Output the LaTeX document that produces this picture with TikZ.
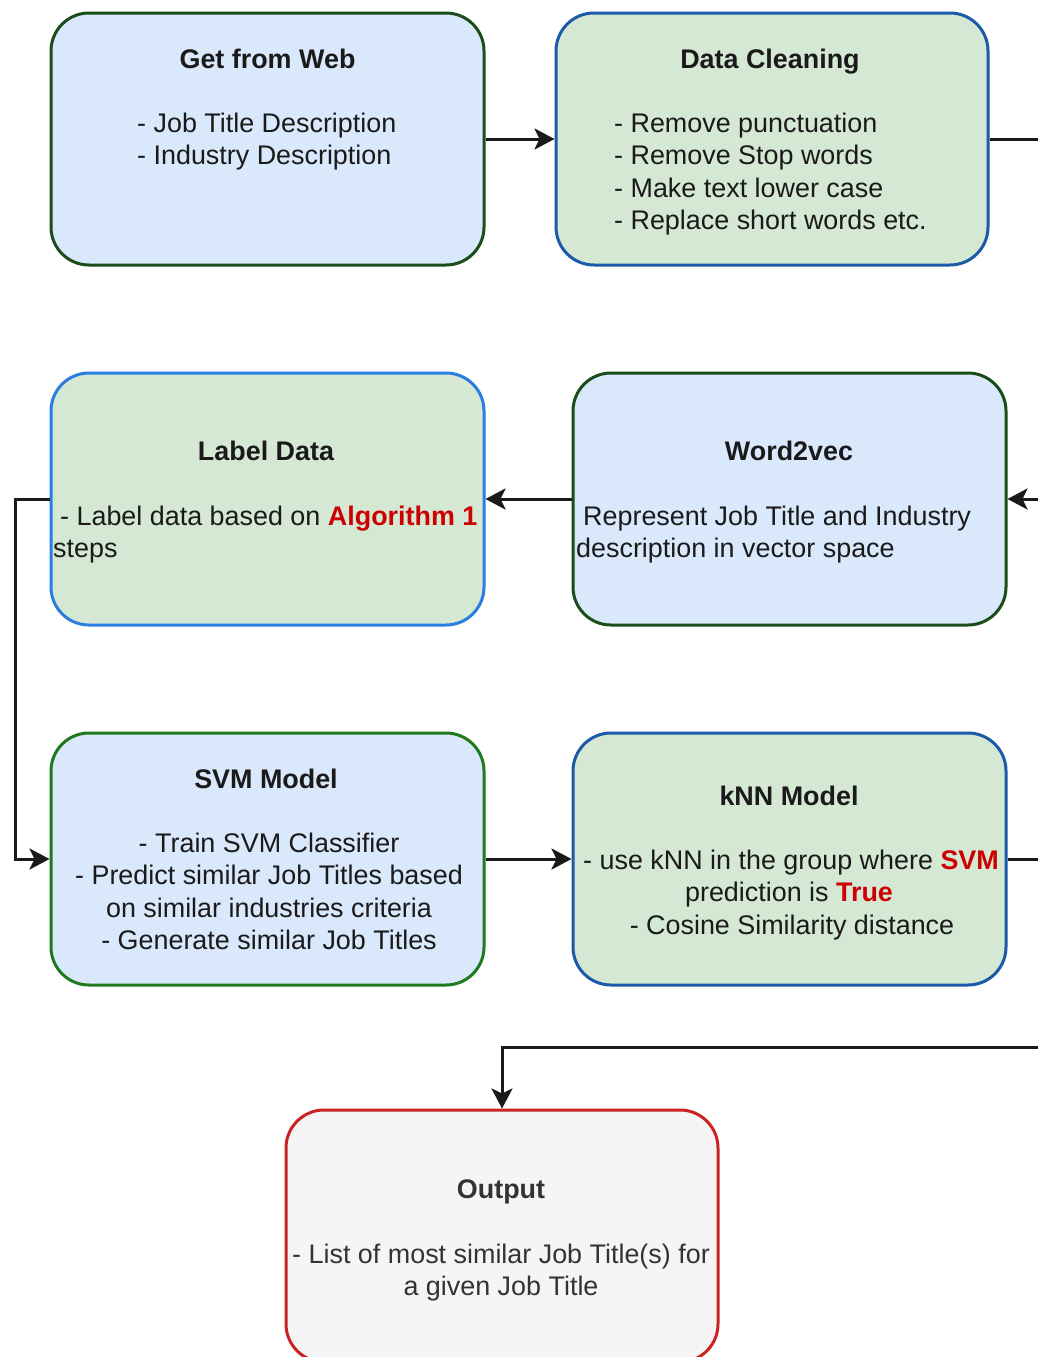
\documentclass[tikz,border=0pt]{standalone}
\usepackage{fontspec}
\setmainfont{Liberation Sans}
\usetikzlibrary{arrows.meta}
\definecolor{bluefill}{HTML}{DAE8FC}
\definecolor{greenfill}{HTML}{D5E8D4}
\definecolor{greyfill}{HTML}{F5F5F5}
\definecolor{darkgreen}{HTML}{1B4D1B}
\definecolor{midgreen}{HTML}{1F7A1F}
\definecolor{darkblue}{HTML}{1A5AA8}
\definecolor{brightblue}{HTML}{2B7DE0}
\definecolor{outred}{HTML}{CC2222}
\definecolor{hired}{HTML}{CC0000}
\definecolor{ink}{HTML}{1A1A1A}
\definecolor{greyink}{HTML}{333333}
\begin{document}
\begin{tikzpicture}[x=1pt,y=-1pt,
  box/.style={rectangle, rounded corners=38pt, line width=3pt, minimum width=433pt, minimum height=252pt, inner sep=0pt},
  txt/.style={inner sep=0pt, text=ink, font=\fontsize{26.9}{32.5}\selectfont},
  ttl/.style={inner sep=0pt, text=ink, font=\fontsize{26.9}{32.5}\selectfont\bfseries},
  conn/.style={line width=3pt, draw=ink, -{Stealth[length=20pt,width=21pt,inset=5pt]}}]
\useasboundingbox (0,0) rectangle (1038,1357);
\fill[white] (0,0) rectangle (1038,1357);
\clip (0,0) rectangle (1038,1357);

% boxes
\node[box, fill=bluefill, draw=darkgreen] (gfw) at (267.5,139) {};
\node[box, fill=greenfill, draw=darkblue, minimum width=432pt] (dc) at (772,139) {};
\node[box, fill=greenfill, draw=brightblue] (ld) at (267.5,499) {};
\node[box, fill=bluefill, draw=darkgreen] (w2v) at (789.5,499) {};
\node[box, fill=bluefill, draw=midgreen] (svm) at (267.5,859) {};
\node[box, fill=greenfill, draw=darkblue] (knn) at (789.5,859) {};
\node[box, fill=greyfill, draw=outred, minimum width=432pt] (out) at (502,1236) {};

% Get from Web
\node[ttl, anchor=base] (gfwt) at (267.5,68) {Get from Web};
\node[txt, anchor=base west] (gfw1) at (137,132) {- Job Title Description};
\node[txt, anchor=base west] (gfw2) at (137,164.5) {- Industry Description};

% Data Cleaning
\node[ttl, anchor=base] (dct) at (770,68) {Data Cleaning};
\node[txt, anchor=base west] (dc1) at (614,132) {- Remove punctuation};
\node[txt, anchor=base west] (dc2) at (614,164.5) {- Remove Stop words};
\node[txt, anchor=base west] (dc3) at (614,197) {- Make text lower case};
\node[txt, anchor=base west] (dc4) at (614,229.5) {- Replace short words etc.};

% Label Data
\node[ttl, anchor=base] (ldt) at (266,460) {Label Data};
\node[txt, anchor=base west] (ld1) at (60,525) {- Label data based on {\color{hired}\bfseries Algorithm 1}};
\node[txt, anchor=base west] (ld2) at (53,557) {steps};

% Word2vec
\node[ttl, anchor=base] (w2vt) at (789,460) {Word2vec};
\node[txt, anchor=base west] (w2v1) at (583,525) {Represent Job Title and Industry};
\node[txt, anchor=base west] (w2v2) at (576,557) {description in vector space};

% SVM Model
\node[ttl, anchor=base] (svmt) at (266,788) {SVM Model};
\node[txt, anchor=base] (svm1) at (269,852) {- Train SVM Classifier};
\node[txt, anchor=base] (svm2) at (269,884.5) {- Predict similar Job Titles based};
\node[txt, anchor=base] (svm3) at (269,917) {on similar industries criteria};
\node[txt, anchor=base] (svm4) at (269,949.5) {- Generate similar Job Titles};

% kNN Model
\node[ttl, anchor=base] (knnt) at (789,805) {kNN Model};
\node[txt, anchor=base] (knn1) at (791,869) {- use kNN in the group where {\color{hired}\bfseries SVM}};
\node[txt, anchor=base] (knn2) at (789,901.5) {prediction is {\color{hired}\bfseries True}};
\node[txt, anchor=base] (knn3) at (792,934) {- Cosine Similarity distance};

% Output
\node[ttl, anchor=base, text=greyink] (outt) at (501,1198) {Output};
\node[txt, anchor=base, text=greyink] (out1) at (501,1263) {- List of most similar Job Title(s) for};
\node[txt, anchor=base, text=greyink] (out2) at (501,1295.5) {a given Job Title};

% connectors
\coordinate (r1) at (1060,139);
\coordinate (l1) at (15,499);
\coordinate (r2) at (1060,859);
\coordinate (r3) at (1060,1047);
\draw[conn] (gfw.east) -- (dc.west);
\draw[conn] (dc.east) -- (r1) |- (w2v.east);
\draw[conn] (w2v.west) -- (ld.east);
\draw[conn] (ld.west) -- (l1) |- (svm.west);
\draw[conn] (svm.east) -- (knn.west);
\draw[conn] (knn.east) -- (r2) -- (r3) -| (out.north);
\end{tikzpicture}
\end{document}
